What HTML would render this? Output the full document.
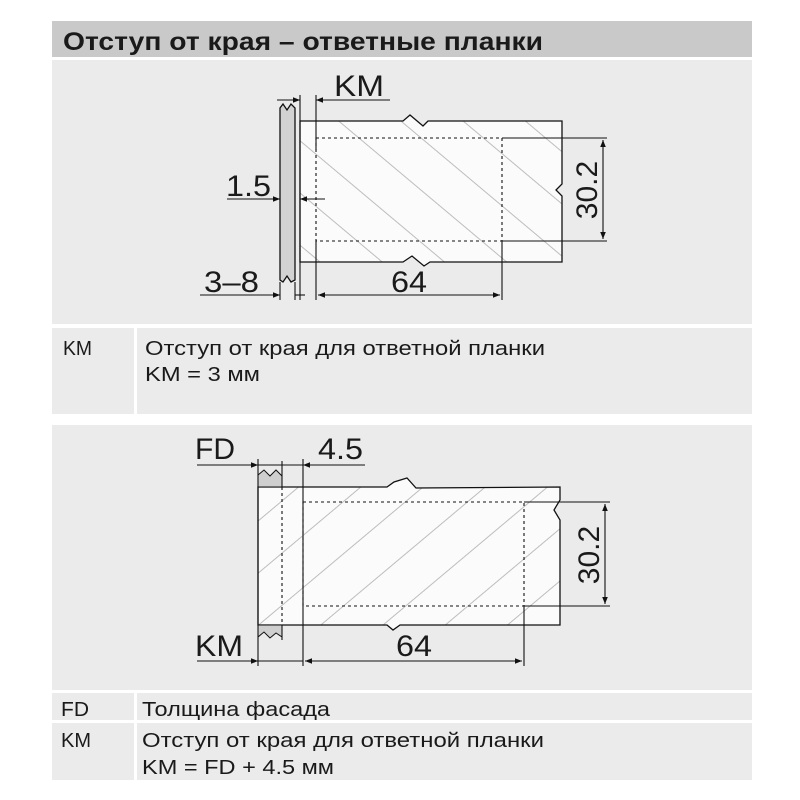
<!DOCTYPE html>
<html><head><meta charset="utf-8"><style>
html,body{margin:0;padding:0;background:#fff;}
svg{display:block}
text{font-family:"Liberation Sans","Noto Sans CJK SC",sans-serif;fill:#1a1a1a}
</style></head><body>
<svg width="800" height="800" viewBox="0 0 800 800" xmlns="http://www.w3.org/2000/svg">
<defs>
<marker id="a" viewBox="0 0 10 10" refX="10" refY="5" markerWidth="10" markerHeight="7" orient="auto-start-reverse" markerUnits="userSpaceOnUse"><path d="M0,1 L10,5 L0,9 z" fill="#111"/></marker>
<pattern id="h1" width="40" height="40" patternUnits="userSpaceOnUse" patternTransform="rotate(-50)">
<rect width="40" height="40" fill="#fbfbfb"/>
<line x1="5" y1="0" x2="5" y2="40" stroke="#bdbdbd" stroke-width="1"/>
</pattern>
<pattern id="h2" width="40" height="40" patternUnits="userSpaceOnUse" patternTransform="rotate(50)">
<rect width="40" height="40" fill="#fbfbfb"/>
<line x1="5" y1="0" x2="5" y2="40" stroke="#bdbdbd" stroke-width="1"/>
</pattern>
</defs>
<rect width="800" height="800" fill="#fff"/>
<!-- header -->
<rect x="52" y="21" width="700" height="36" fill="#c9c9c9"/>
<text x="63" y="50" font-size="25" font-weight="bold" textLength="480" lengthAdjust="spacingAndGlyphs">Отступ от края – ответные планки</text>
<!-- panel 1 -->
<rect x="52" y="60" width="700" height="264" fill="#ebebeb"/>
<rect x="52" y="328" width="82" height="86" fill="#ebebeb"/>
<rect x="137" y="328" width="615" height="86" fill="#ebebeb"/>
<text x="63" y="355" font-size="20" textLength="29" lengthAdjust="spacingAndGlyphs">KM</text>
<text x="145" y="355" font-size="20" textLength="400" lengthAdjust="spacingAndGlyphs">Отступ от края для ответной планки</text>
<text x="145" y="381" font-size="20" textLength="115" lengthAdjust="spacingAndGlyphs">KM = 3 мм</text>
<!-- panel 2 -->
<rect x="52" y="425" width="700" height="265" fill="#ebebeb"/>
<rect x="52" y="693" width="82" height="27" fill="#ebebeb"/>
<rect x="137" y="693" width="615" height="27" fill="#ebebeb"/>
<rect x="52" y="723" width="82" height="57" fill="#ebebeb"/>
<rect x="137" y="723" width="615" height="57" fill="#ebebeb"/>
<text x="61" y="716" font-size="20" textLength="28" lengthAdjust="spacingAndGlyphs">FD</text>
<text x="142" y="716" font-size="20" textLength="188" lengthAdjust="spacingAndGlyphs">Толщина фасада</text>
<text x="61" y="747" font-size="20" textLength="30" lengthAdjust="spacingAndGlyphs">KM</text>
<text x="142" y="747" font-size="20" textLength="402" lengthAdjust="spacingAndGlyphs">Отступ от края для ответной планки</text>
<text x="142" y="774" font-size="20" textLength="192" lengthAdjust="spacingAndGlyphs">KM = FD + 4.5 мм</text>

<!-- DIAGRAM 1 -->
<g stroke="#111" stroke-width="1.3" fill="none">
<path d="M280,108 L280,280 L283,282 L287,276 L291,282 L295,280 L295,108 L291,104 L287,110 L283,104 Z" fill="#d2d2d2"/>
<path d="M300,121 L403,121 L410,115 L423,126 L428,121 L562,121 L562,184 L556,190 L562,196 L562,262 L430,262 L424,266 L412,256 L403,262 L300,262 Z" fill="url(#h1)"/>
</g>
<g stroke="#111" stroke-width="1.1" fill="none">
<line x1="300" y1="95" x2="300" y2="300"/>
<line x1="316" y1="95" x2="316" y2="150"/>
<line x1="316" y1="240" x2="316" y2="300"/>
<rect x="316" y="138" width="186" height="103" stroke-dasharray="3,3"/>
<line x1="502" y1="241" x2="502" y2="300"/>
<line x1="502" y1="138" x2="607" y2="138"/>
<line x1="502" y1="241" x2="607" y2="241"/>
<line x1="603" y1="140" x2="603" y2="239" marker-start="url(#a)" marker-end="url(#a)"/>
<line x1="277" y1="100" x2="300" y2="100" marker-end="url(#a)"/>
<line x1="390" y1="100" x2="316" y2="100" marker-end="url(#a)"/>
<line x1="227" y1="199" x2="280" y2="199" marker-end="url(#a)"/>
<line x1="325" y1="199" x2="300" y2="199" marker-end="url(#a)"/>
<line x1="200" y1="295" x2="280" y2="295" marker-end="url(#a)"/>
<line x1="305" y1="295" x2="295" y2="295"/>
<line x1="318" y1="295" x2="500" y2="295" marker-start="url(#a)" marker-end="url(#a)"/>
<line x1="280" y1="282" x2="280" y2="300"/>
<line x1="295" y1="282" x2="295" y2="300"/>
</g>
<text x="334" y="96" font-size="30" textLength="50" lengthAdjust="spacingAndGlyphs">KM</text>
<text x="226" y="196" font-size="30" textLength="45" lengthAdjust="spacingAndGlyphs">1.5</text>
<text x="204" y="292" font-size="30" textLength="55" lengthAdjust="spacingAndGlyphs">3–8</text>
<text x="391" y="292" font-size="30" textLength="36" lengthAdjust="spacingAndGlyphs">64</text>
<text transform="translate(597,190) rotate(-90)" text-anchor="middle" font-size="30">30.2</text>

<!-- DIAGRAM 2 -->
<g stroke="#111" stroke-width="1.3" fill="none">
<path d="M258,487 L387,487 L394,482 L407,478 L416,488 L560,487 L560,500 L554,510 L560,520 L560,625 L400,625 L393,630 L387,625 L258,625 Z" fill="url(#h2)"/>
<path d="M258,475 L264,470 L270,476 L276,470 L282,476 L282,487 L258,487 Z" fill="#cfcfcf" stroke-width="1"/>
<path d="M258,625 L282,625 L282,637 L276,633 L270,638 L264,632 L258,637 Z" fill="#cfcfcf" stroke-width="1"/>
</g>
<g stroke="#111" stroke-width="1.1" fill="none">
<line x1="258" y1="459" x2="258" y2="666"/>
<line x1="282" y1="461" x2="282" y2="487"/>
<line x1="282" y1="487" x2="282" y2="625" stroke-dasharray="3,3"/>
<line x1="282" y1="625" x2="282" y2="640"/>
<line x1="303" y1="459" x2="303" y2="666"/>
<rect x="303" y="502" width="221" height="104" stroke-dasharray="3,3"/>
<line x1="524" y1="606" x2="524" y2="666"/>
<line x1="524" y1="502" x2="610" y2="502"/>
<line x1="524" y1="606" x2="610" y2="606"/>
<line x1="605" y1="504" x2="605" y2="604" marker-start="url(#a)" marker-end="url(#a)"/>
<line x1="197" y1="465" x2="258" y2="465" marker-end="url(#a)"/>
<line x1="258" y1="465" x2="282" y2="465"/>
<line x1="365" y1="465" x2="303" y2="465" marker-end="url(#a)"/>
<line x1="282" y1="465" x2="303" y2="465"/>
<line x1="197" y1="661" x2="258" y2="661" marker-end="url(#a)"/>
<line x1="258" y1="661" x2="303" y2="661"/>
<line x1="305" y1="661" x2="522" y2="661" marker-start="url(#a)" marker-end="url(#a)"/>
</g>
<text x="195" y="459" font-size="30" textLength="40" lengthAdjust="spacingAndGlyphs">FD</text>
<text x="318" y="459" font-size="30" textLength="45" lengthAdjust="spacingAndGlyphs">4.5</text>
<text x="195" y="656" font-size="30" textLength="48" lengthAdjust="spacingAndGlyphs">KM</text>
<text x="396" y="656" font-size="30" textLength="36" lengthAdjust="spacingAndGlyphs">64</text>
<text transform="translate(599,555) rotate(-90)" text-anchor="middle" font-size="30">30.2</text>
</svg>
</body></html>
